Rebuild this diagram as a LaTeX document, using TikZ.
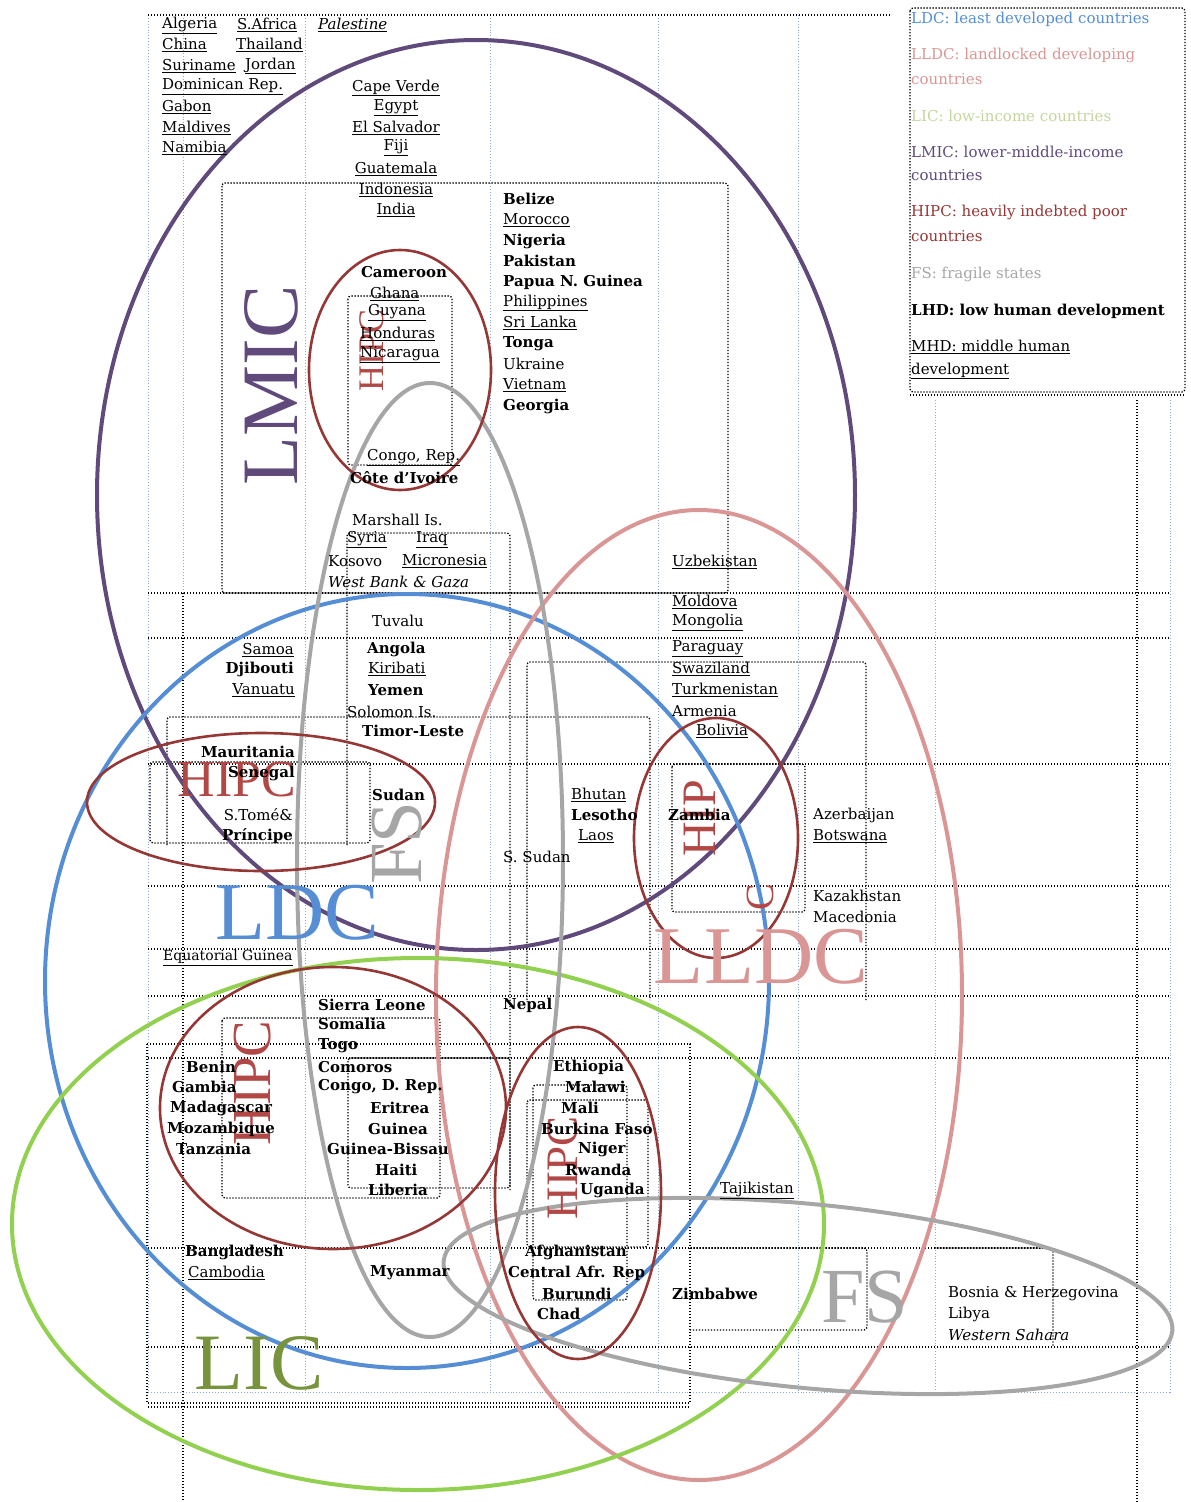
\documentclass[tikz,border=0pt]{standalone}
\usepackage{fontspec}
\setmainfont{DejaVu Serif}
\newfontfamily\bigfont{Liberation Serif}
\definecolor{lmic}{RGB}{96,74,123}
\definecolor{ldc}{RGB}{85,142,213}
\definecolor{lldc}{RGB}{217,150,148}
\definecolor{lic}{RGB}{146,208,80}
\definecolor{licdark}{RGB}{119,147,60}
\definecolor{liclight}{RGB}{195,214,155}
\definecolor{fs}{RGB}{166,166,166}
\definecolor{hipc}{RGB}{149,55,53}
\definecolor{hipclab}{RGB}{178,72,70}
\definecolor{gridblue}{RGB}{142,170,219}
\newcommand{\myu}[1]{\underline{#1}}
\begin{document}
\begin{tikzpicture}[x=1pt,y=-1pt,
  t/.style={inner sep=0pt,anchor=west,font=\fontsize{15}{18}\selectfont},
  tb/.style={t,font=\fontsize{15}{18}\selectfont\bfseries},
  ti/.style={t,font=\fontsize{15}{18}\selectfont\itshape},
  tr/.style={t,anchor=east},
  tbr/.style={tb,anchor=east},
  tc/.style={t,anchor=center},
  tbc/.style={tb,anchor=center},
  lg/.style={t},
  biglab/.style={inner sep=0pt,anchor=center},
  bdot/.style={black,line width=1.3pt,dash pattern=on 1.3pt off 1.7pt},
  gdot/.style={gridblue,line width=0.9pt,dash pattern=on 0.9pt off 2pt},
  bigring/.style={line width=4pt},
  hring/.style={hipc,line width=2.6pt}]
\useasboundingbox (0,0) rectangle (1191,1502);
% ---------- page grid (blue dotted) ----------
\foreach \xx in {148,305,490,658,798} {\draw[gdot] (\xx,15) -- (\xx,1392);}
\foreach \xx in {935,1170} {\draw[gdot] (\xx,400) -- (\xx,1392);}
\draw[gdot] (183,15) -- (183,593);
\draw[gdot] (148,1392) -- (1170,1392);
% ---------- black dotted table lines ----------
\draw[bdot] (148,15) -- (890,15);
\draw[bdot] (183,593) -- (183,1502);
\draw[bdot] (1137,400) -- (1137,1502);
\foreach \yy in {593,638,764,886,949,996,1058,1347} {\draw[bdot] (148,\yy) -- (1170,\yy);}
\draw[bdot] (148,1248) -- (1053,1248);
\draw[bdot] (147,1044) rectangle (690,1403);
\draw[bdot] (148,1407) -- (690,1407);
\draw[bdot,rounded corners=3pt] (910,8) rectangle (1185,392);
\draw[bdot] (910,395) -- (1185,395);
\draw[bdot,rounded corners=3pt] (222,183) rectangle (728,593);
\draw[bdot,rounded corners=3pt] (348,296) rectangle (452,465);
\draw[bdot,rounded corners=3pt] (347,845) -- (347,533) -- (510,533) -- (510,1190);
\draw[bdot,rounded corners=3pt] (167,845) -- (167,717) -- (650,717) -- (650,1000);
\draw[bdot,rounded corners=3pt] (527,1000) -- (527,662) -- (866,662) -- (866,1000);
\draw[bdot,rounded corners=3pt] (150,762) rectangle (370,843);
\draw[bdot,rounded corners=3pt] (672,764) rectangle (805,912);
\draw[bdot,rounded corners=3pt] (222,1018) rectangle (440,1198);
\draw[bdot,rounded corners=3pt] (348,1058) rectangle (510,1188);
\draw[bdot,rounded corners=3pt] (533,1085) rectangle (627,1300);
\draw[bdot,rounded corners=3pt] (527,1100) rectangle (648,1247);
\draw[bdot,rounded corners=3pt] (690,1248) -- (867,1248) -- (867,1330) -- (690,1330);
\draw[bdot,rounded corners=3pt] (935,1248) -- (1053,1248) -- (1053,1347);
% ---------- big rings ----------
\draw[bigring,lmic] (476,495) ellipse [x radius=379,y radius=455];
\draw[bigring,ldc] (407,981) ellipse [x radius=362,y radius=387];
\draw[bigring,lldc] (699,995) ellipse [x radius=263,y radius=485];
\draw[bigring,lic] (418,1224) ellipse [x radius=406,y radius=266];
\draw[bigring,fs] (430,860) ellipse [x radius=133,y radius=477];
\draw[bigring,fs,rotate around={-5.5:(808,1296)}] (808,1296) ellipse [x radius=366,y radius=92];
% ---------- HIPC rings ----------
\draw[hring] (400,370) ellipse [x radius=91,y radius=120];
\draw[hring] (261,802) ellipse [x radius=174,y radius=69];
\draw[hring] (716,838) ellipse [x radius=82,y radius=120];
\draw[hring] (333,1108) ellipse [x radius=173,y radius=141];
\draw[hring] (578,1193) ellipse [x radius=83,y radius=166];
% ---------- big labels ----------
\node[biglab,lmic,rotate=90,font=\bigfont\fontsize{80}{80}\selectfont] (lLMIC) at (271,385) {LMIC};
\node[biglab,ldc,font=\bigfont\fontsize{82}{82}\selectfont] (lLDC) at (297,913) {LDC};
\node[biglab,lldc,font=\bigfont\fontsize{82}{82}\selectfont] (lLLDC) at (761,957) {LLDC};
\node[biglab,licdark,font=\bigfont\fontsize{80}{80}\selectfont] (lLIC) at (259,1363) {LIC};
\node[biglab,fs,font=\bigfont\fontsize{78}{78}\selectfont] (lFS) at (865,1297) {FS};
\node[biglab,fs,rotate=90,font=\bigfont\fontsize{75}{75}\selectfont] (lFS2) at (397,843) {FS};
\node[biglab,hipclab,font=\bigfont\fontsize{52}{52}\selectfont] (lH1) at (237,780) {HIPC};
\node[biglab,hipclab,rotate=90,font=\bigfont\fontsize{36}{36}\selectfont] (lH2) at (372,350) {HIPC};
\node[biglab,hipclab,rotate=90,font=\bigfont\fontsize{48}{48}\selectfont] (lH3) at (700,818) {HIP};
\node[biglab,hipclab,rotate=90,font=\bigfont\fontsize{40}{40}\selectfont] (lH3c) at (760,897) {C};
\node[biglab,hipclab,rotate=90,font=\bigfont\fontsize{55}{55}\selectfont] (lH4) at (253,1083) {HIPC};
\node[biglab,hipclab,rotate=90,font=\bigfont\fontsize{45}{45}\selectfont] (lH5) at (563,1168) {HIPC};
% ---------- legend ----------
\begin{scope}
\clip (908,6) rectangle (1185,394);
\node[lg,ldc] (g1) at (911,19) {LDC: least developed countries};
\node[lg,lldc] (g2) at (911,55) {LLDC: landlocked developing};
\node[lg,lldc] (g2b) at (911,79) {countries};
\node[lg,liclight] (g3) at (911,116) {LIC: low-income countries};
\node[lg,lmic] (g4) at (911,152) {LMIC: lower-middle-income};
\node[lg,lmic] (g4b) at (911,175) {countries};
\node[lg,hipc] (g5) at (911,212) {HIPC: heavily indebted poor};
\node[lg,hipc] (g5b) at (911,236) {countries};
\node[lg,fs] (g6) at (911,274) {FS: fragile states};
\node[tb] (g7) at (911,311) {LHD: low human development};
\node[t] (g8) at (911,347) {\myu{MHD: middle human}};
\node[t] (g8b) at (911,371) {\myu{development}};
\end{scope}
% ---------- countries: top ----------
\node[t] (algeria) at (162,25) {\myu{Algeria}};
\node[t] (safrica) at (237,25) {\myu{S.Africa}};
\node[ti] (palestine) at (318,25) {\myu{Palestine}};
\node[t] (china) at (162,45) {\myu{China}};
\node[t] (thailand) at (236,45) {\myu{Thailand}};
\node[t] (suriname) at (162,66) {\myu{Suriname}};
\node[t] (jordan) at (245,66) {\myu{Jordan}};
\node[t] (domrep) at (162,87) {\myu{Dominican Rep.}};
\node[t] (gabon) at (162,107) {\myu{Gabon}};
\node[t] (maldives) at (162,128) {\myu{Maldives}};
\node[t] (namibia) at (162,148) {\myu{Namibia}};
\node[tc] (capeverde) at (396,88) {\myu{Cape Verde}};
\node[tc] (egypt) at (396,108) {\myu{Egypt}};
\node[tc] (elsalvador) at (396,128) {\myu{El Salvador}};
\node[tc] (fiji) at (396,148) {\myu{Fiji}};
\node[tc] (guatemala) at (396,169) {\myu{Guatemala}};
\node[tc] (indonesia) at (396,190) {\myu{Indonesia}};
\node[tc] (india) at (396,210) {\myu{India}};
\node[tb] (belize) at (503,199) {Belize};
\node[t] (morocco) at (503,220) {\myu{Morocco}};
\node[tb] (nigeria) at (503,241) {Nigeria};
\node[tb] (pakistan) at (503,261) {Pakistan};
\node[tb] (png) at (503,282) {Papua N. Guinea};
\node[t] (philippines) at (503,303) {\myu{Philippines}};
\node[t] (srilanka) at (503,323) {\myu{Sri Lanka}};
\node[tb] (tonga) at (503,344) {Tonga};
\node[t] (ukraine) at (503,364) {Ukraine};
\node[t] (vietnam) at (503,385) {\myu{Vietnam}};
\node[tb] (georgia) at (503,406) {Georgia};
% upper HIPC
\node[tbc] (cameroon) at (404,272) {Cameroon};
\node[t] (ghana) at (370,294) {\myu{Ghana}};
\node[t] (guyana) at (368,313) {\myu{Guyana}};
\node[t] (honduras) at (360,334) {\myu{Honduras}};
\node[t] (nicaragua) at (360,355) {\myu{Nicaragua}};
\node[t] (congorep) at (367,458) {\myu{Congo, Rep.}};
\node[tb] (cotedivoire) at (350,478) {C\^ote d'Ivoire};
\node[t] (marshall) at (352,520) {Marshall Is.};
\node[t] (syria) at (347,540) {\myu{Syria}};
\node[t] (iraq) at (416,540) {\myu{Iraq}};
\node[t] (kosovo) at (328,561) {Kosovo};
\node[t] (micronesia) at (402,561) {\myu{Micronesia}};
\node[ti] (wbg) at (328,582) {West Bank \& Gaza};
% middle left
\node[t] (tuvalu) at (372,621) {Tuvalu};
\node[tr] (samoa) at (294,650) {\myu{Samoa}};
\node[tbr] (djibouti) at (294,669) {Djibouti};
\node[tr] (vanuatu) at (295,690) {\myu{Vanuatu}};
\node[tb] (angola) at (367,649) {Angola};
\node[t] (kiribati) at (368,669) {\myu{Kiribati}};
\node[tb] (yemen) at (368,690) {Yemen};
\node[t] (solomon) at (347,712) {Solomon Is.};
\node[tb] (timor) at (362,731) {Timor-Leste};
\node[tbr] (mauritania) at (295,752) {Mauritania};
\node[tbr] (senegal) at (295,773) {Senegal};
\node[tb] (sudan) at (372,795) {Sudan};
\node[tr] (stome) at (293,815) {S.Tom\'e\&};
\node[tbr] (principe) at (293,836) {Pr\'incipe};
% right
\node[t] (uzbekistan) at (672,562) {\myu{Uzbekistan}};
\node[t] (moldova) at (672,602) {\myu{Moldova}};
\node[t] (mongolia) at (672,622) {\myu{Mongolia}};
\node[t] (paraguay) at (672,649) {\myu{Paraguay}};
\node[t] (swaziland) at (672,669) {\myu{Swaziland}};
\node[t] (turkmenistan) at (672,690) {\myu{Turkmenistan}};
\node[t] (armenia) at (672,711) {Armenia};
\node[t] (bolivia) at (696,731) {\myu{Bolivia}};
\node[t] (bhutan) at (571,795) {\myu{Bhutan}};
\node[tb] (lesotho) at (571,815) {Lesotho};
\node[t] (laos) at (578,836) {\myu{Laos}};
\node[t] (ssudan) at (503,857) {S. Sudan};
\node[tb] (zambia) at (668,815) {Zambia};
\node[t] (azerbaijan) at (813,815) {Azerbaijan};
\node[t] (botswana) at (813,836) {\myu{Botswana}};
\node[t] (kazakhstan) at (813,896) {Kazakhstan};
\node[t] (macedonia) at (813,917) {Macedonia};
% lower left
\node[t,font=\fontsize{14}{17}\selectfont] (eqguinea) at (163,958) {\myu{Equatorial Guinea}};
\node[tb] (sierraleone) at (318,1005) {Sierra Leone};
\node[tb] (somalia) at (318,1024) {Somalia};
\node[tb] (togo) at (318,1046) {Togo};
\node[tb] (comoros) at (318,1067) {Comoros};
\node[tb] (congodr) at (318,1087) {Congo, D. Rep.};
\node[tb] (eritrea) at (370,1108) {Eritrea};
\node[tb] (guinea) at (368,1129) {Guinea};
\node[tb] (guineab) at (327,1149) {Guinea-Bissau};
\node[tb] (haiti) at (375,1170) {Haiti};
\node[tb] (liberia) at (368,1190) {Liberia};
\node[tb] (benin) at (186,1067) {Benin};
\node[tb] (gambia) at (172,1087) {Gambia};
\node[tb] (madagascar) at (170,1108) {Madagascar};
\node[tb] (mozambique) at (167,1129) {Mozambique};
\node[tb] (tanzania) at (176,1149) {Tanzania};
% lower middle
\node[tb] (nepal) at (503,1005) {Nepal};
\node[tb] (ethiopia) at (553,1067) {Ethiopia};
\node[tb] (malawi) at (565,1087) {Malawi};
\node[tb] (mali) at (561,1108) {Mali};
\node[tb] (burkina) at (541,1129) {Burkina Faso};
\node[tb] (niger) at (578,1149) {Niger};
\node[tb] (rwanda) at (565,1170) {Rwanda};
\node[tb] (uganda) at (580,1190) {Uganda};
\node[t] (tajikistan) at (720,1190) {\myu{Tajikistan}};
\node[tb] (bangladesh) at (185,1252) {Bangladesh};
\node[t] (cambodia) at (188,1273) {\myu{Cambodia}};
\node[tb] (myanmar) at (370,1273) {Myanmar};
\node[tb] (afghanistan) at (525,1252) {Afghanistan};
\node[tb] (car) at (508,1273) {Central Afr. Rep};
\node[tb] (burundi) at (542,1294) {Burundi};
\node[tb] (chad) at (537,1314) {Chad};
\node[tb] (zimbabwe) at (672,1294) {Zimbabwe};
\node[t] (bosnia) at (948,1294) {Bosnia \& Herzegovina};
\node[t] (libya) at (948,1314) {Libya};
\node[ti] (wsahara) at (948,1335) {Western Sahara};
\end{tikzpicture}
\end{document}
